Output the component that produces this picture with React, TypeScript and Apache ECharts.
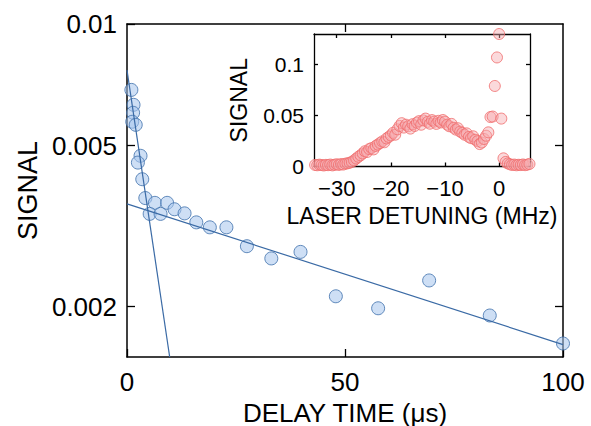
import React, { useEffect, useRef } from "react";
import * as echarts from "echarts";

// Main plot: decay data (delay time in µs, signal)
const delayTime = [1.0, 1.5, 1.4, 1.2, 2.0, 3.1, 2.5, 3.5, 4.2, 6.4, 5.2, 7.7, 9.2, 10.9, 13.2, 15.9, 19.0, 22.8, 27.5, 33.1, 39.8, 47.9, 57.6, 69.3, 83.2, 100];
const signal = [0.00687, 0.00631, 0.00603, 0.00573, 0.00563, 0.00472, 0.00454, 0.00413, 0.00371, 0.00361, 0.00339, 0.00339, 0.00361, 0.00348, 0.0034, 0.00323, 0.00314, 0.00314, 0.00282, 0.00263, 0.00273, 0.00212, 0.00198, 0.00232, 0.0019, 0.00162];

// Fitted exponential decays (end points)
const slowFitX = [0, 100];
const slowFitY = [0.00359, 0.00161];
const fastFitX = [0, 9.79];
const fastFitY = [0.00769, 0.0015];

// Inset: spectrum
const detuning = [
  -34.0, -33.6, -33.2, -32.8, -32.4, -32.0, -31.6, -31.2, -30.8, -30.4,
  -30.0, -29.6, -29.2, -28.8, -28.4, -28.0, -27.6, -27.2, -26.8, -26.4,
  -26.0, -25.6, -25.2, -24.8, -24.4, -24.0, -23.6, -23.2, -22.8, -22.4,
  -22.0, -21.6, -21.2, -20.8, -20.4, -20.0, -19.6, -19.2, -18.8, -18.4,
  -18.0, -17.6, -17.2, -16.8, -16.4, -16.0, -15.6, -15.2, -14.8, -14.4,
  -14.0, -13.6, -13.2, -12.8, -12.4, -12.0, -11.6, -11.2, -10.8, -10.4,
  -10.0, -9.6, -9.2, -8.8, -8.4, -8.0, -7.6, -7.2, -6.8, -6.4,
  -6.0, -5.6, -5.2, -4.8, -4.4, -4.0, -3.6, -3.2, -2.8, -2.4,
  -2.0, -1.6, -1.2, -0.8, -0.4, 0.0, 0.4, 0.8, 1.2, 1.6,
  2.0, 2.4, 2.8, 3.2, 3.6, 4.0, 4.4, 4.8, 5.2, 5.6,
];
const spectrum = [
  0.0015, 0.0012, 0.0018, 0.0014, 0.0010, 0.0016, 0.0013, 0.0019, 0.0011, 0.0017,
  0.0022, 0.0015, 0.0024, 0.0019, 0.0028, 0.0031, 0.0037, 0.0045, 0.0060, 0.0078,
  0.0095, 0.0110, 0.0128, 0.0150, 0.0142, 0.0171, 0.0180, 0.0168, 0.0202, 0.0215,
  0.0230, 0.0246, 0.0238, 0.0275, 0.0290, 0.0305, 0.0330, 0.0312, 0.0365, 0.0398,
  0.0425, 0.0382, 0.0410, 0.0395, 0.0372, 0.0415, 0.0398, 0.0430, 0.0445, 0.0410,
  0.0452, 0.0470, 0.0438, 0.0420, 0.0455, 0.0440, 0.0418, 0.0448, 0.0432, 0.0456,
  0.0440, 0.0410, 0.0395, 0.0418, 0.0380, 0.0362, 0.0375, 0.0342, 0.0330, 0.0312,
  0.0325, 0.0290, 0.0278, 0.0296, 0.0262, 0.0248, 0.0220, 0.0235, 0.0270, 0.0302,
  0.0335, 0.0485, 0.0490, 0.0790, 0.1070, 0.1300, 0.0470, 0.0080, 0.0045, 0.0030,
  0.0022, 0.0015, 0.0019, 0.0012, 0.0017, 0.0014, 0.0020, 0.0013, 0.0018, 0.0025,
];

const mainXTicks = [0, 50, 100];
const mainYTicks = [0.002, 0.005, 0.01];
const insetXTicks = [-30, -20, -10, 0];
const insetYTicks = [0, 0.05, 0.1];

const FONT = "'Liberation Sans', Arial, Helvetica, sans-serif";
const fmt = (v: number) => String(Number(Number(v).toPrecision(3)));

export default function App() {
  const ref = useRef<HTMLDivElement>(null);
  useEffect(() => {
    if (!ref.current) return;
    const chart = echarts.init(ref.current, undefined, { renderer: "svg" });
    const axisLine = { show: true, onZero: false, lineStyle: { color: "#000", width: 1.5 } };
    const insetLine = { show: true, onZero: false, lineStyle: { color: "#000", width: 1.3 } };
    const tickStyle = { color: "#000", width: 1.3 };
    const labelStyle = { color: "#000", fontFamily: FONT };
    chart.setOption({
      animation: false,
      backgroundColor: "#fff",
      grid: [
        { left: 127, right: 28, top: 24, bottom: 69, containLabel: false, outerBoundsMode: "none" },
        {
          left: 314, top: 34, width: 216, height: 132.5, show: true, backgroundColor: "#fff", borderWidth: 0,
          containLabel: false, outerBoundsMode: "none",
        },
      ],
      xAxis: [
        {
          gridIndex: 0, type: "value", min: 0, max: 100, position: "bottom",
          axisLine,
          axisTick: { inside: true, length: 8, customValues: mainXTicks, lineStyle: tickStyle },
          axisLabel: { ...labelStyle, customValues: mainXTicks, fontSize: 26, margin: 12 },
          splitLine: { show: false },
          name: "DELAY TIME (μs)", nameLocation: "middle", nameGap: 34,
          nameTextStyle: { ...labelStyle, fontSize: 26, lineHeight: 26 },
        },
        {
          gridIndex: 0, type: "value", min: 0, max: 100, position: "top",
          axisLine,
          axisTick: { inside: true, length: 8, customValues: [50], lineStyle: tickStyle },
          axisLabel: { show: false },
          splitLine: { show: false },
        },
        {
          gridIndex: 1, type: "value", min: -34.2, max: 5.7, position: "bottom",
          axisLine: insetLine,
          axisTick: { inside: true, length: 4, customValues: insetXTicks, lineStyle: tickStyle },
          axisLabel: {
            ...labelStyle, customValues: insetXTicks, fontSize: 22, margin: 11,
            formatter: (v: number) => fmt(v).replace("-", "\u2212"),
          },
          splitLine: { show: false },
          name: "LASER DETUNING (MHz)", nameLocation: "middle", nameGap: 38,
          nameTextStyle: { ...labelStyle, fontSize: 23 },
        },
        {
          gridIndex: 1, type: "value", min: -34.2, max: 5.7, position: "top",
          axisLine: insetLine,
          axisTick: { inside: true, length: 4, customValues: insetXTicks, lineStyle: tickStyle },
          axisLabel: { show: false },
          splitLine: { show: false },
        },
      ],
      yAxis: [
        {
          gridIndex: 0, type: "log", logBase: 10, min: 0.0015, max: 0.01, position: "left",
          axisLine,
          axisTick: { inside: true, length: 8, customValues: mainYTicks, lineStyle: tickStyle },
          axisLabel: { ...labelStyle, customValues: mainYTicks, fontSize: 26, margin: 10, formatter: fmt },
          splitLine: { show: false },
          minorTick: { show: false },
          name: "SIGNAL", nameLocation: "middle", nameGap: 84, nameRotate: 90,
          nameTextStyle: { ...labelStyle, fontSize: 27 },
        },
        {
          gridIndex: 0, type: "log", logBase: 10, min: 0.0015, max: 0.01, position: "right",
          axisLine,
          axisTick: { inside: true, length: 8, customValues: [0.002, 0.005], lineStyle: tickStyle },
          axisLabel: { show: false },
          splitLine: { show: false },
        },
        {
          gridIndex: 1, type: "value", min: 0, max: 0.13, position: "left",
          axisLine: insetLine,
          axisTick: { inside: true, length: 4, customValues: insetYTicks, lineStyle: tickStyle },
          axisLabel: { ...labelStyle, customValues: insetYTicks, fontSize: 21, margin: 10, formatter: fmt },
          splitLine: { show: false },
          name: "SIGNAL", nameLocation: "middle", nameGap: 64, nameRotate: 90,
          nameTextStyle: { ...labelStyle, fontSize: 23 },
        },
        {
          gridIndex: 1, type: "value", min: 0, max: 0.13, position: "right",
          axisLine: insetLine,
          axisTick: { inside: true, length: 4, customValues: [0.05, 0.1], lineStyle: tickStyle },
          axisLabel: { show: false },
          splitLine: { show: false },
        },
      ],
      series: [
        {
          type: "scatter", xAxisIndex: 0, yAxisIndex: 0,
          data: delayTime.map((x, i) => [x, signal[i]]),
          symbol: "circle", symbolSize: 13,
          itemStyle: { color: "rgba(168,198,238,0.7)", borderColor: "#3d6fab", borderWidth: 1 },
          z: 2,
        },
        {
          type: "line", xAxisIndex: 0, yAxisIndex: 0,
          data: slowFitX.map((x, i) => [x, slowFitY[i]]),
          showSymbol: false, symbol: "none",
          lineStyle: { color: "#3a6aa5", width: 1.2 },
          z: 3,
        },
        {
          type: "line", xAxisIndex: 0, yAxisIndex: 0,
          data: fastFitX.map((x, i) => [x, fastFitY[i]]),
          showSymbol: false, symbol: "none",
          lineStyle: { color: "#3a6aa5", width: 1.2 },
          z: 3,
        },
        {
          type: "scatter", xAxisIndex: 2, yAxisIndex: 2,
          data: detuning.map((x, i) => [x, spectrum[i]]),
          symbol: "circle", symbolSize: 11,
          itemStyle: { color: "rgba(245,168,174,0.55)", borderColor: "#f06b6b", borderWidth: 1 },
          z: 4,
        },
      ],
    });
    return () => chart.dispose();
  }, []);
  return (
    <div
      ref={ref}
      style={{ position: "absolute", left: 0, top: 0, width: 591, height: 426 }}
    />
  );
}
